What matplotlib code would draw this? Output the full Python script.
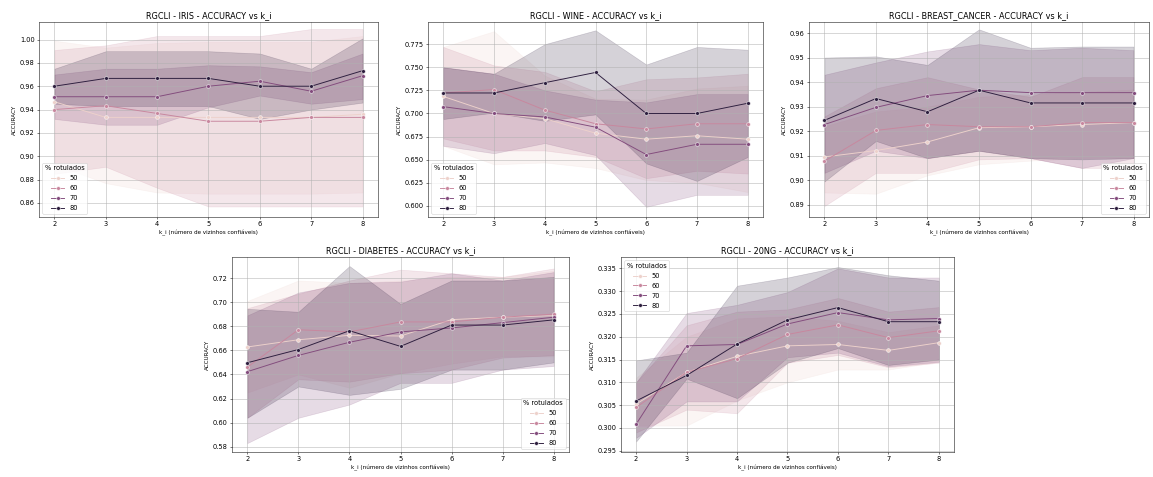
import numpy as np
import matplotlib
matplotlib.use("Agg")
import matplotlib.pyplot as plt
import seaborn as sns

K_I = [2, 3, 4, 5, 6, 7, 8]
HUES = [50, 60, 70, 80]
DATASETS = ["IRIS", "WINE", "BREAST_CANCER", "DIABETES", "20NG"]

# rows: 50, 60, 70, 80
IRIS_MEAN = [[0.9467, 0.9333, 0.9333, 0.9333, 0.9333, 0.9333, 0.9360],
             [0.9400, 0.9433, 0.9367, 0.9300, 0.9300, 0.9333, 0.9333],
             [0.9510, 0.9510, 0.9510, 0.9600, 0.9643, 0.9557, 0.9690],
             [0.9600, 0.9667, 0.9667, 0.9667, 0.9600, 0.9600, 0.9733]]
IRIS_LO = [[0.893, 0.877, 0.869, 0.868, 0.868, 0.868, 0.869],
           [0.885, 0.891, 0.873, 0.857, 0.857, 0.857, 0.857],
           [0.932, 0.927, 0.927, 0.942, 0.952, 0.945, 0.949],
           [0.945, 0.943, 0.943, 0.943, 0.932, 0.940, 0.946]]
IRIS_HI = [[0.999, 0.993, 0.997, 0.998, 0.998, 0.998, 1.003],
           [0.991, 0.995, 1.003, 1.003, 1.003, 1.009, 1.009],
           [0.970, 0.975, 0.975, 0.978, 0.977, 0.972, 0.988],
           [0.975, 0.990, 0.990, 0.990, 0.988, 0.975, 1.001]]

WINE_MEAN = [[0.7185, 0.7000, 0.6944, 0.6787, 0.6722, 0.6759, 0.6722],
             [0.7222, 0.7259, 0.7037, 0.6889, 0.6833, 0.6889, 0.6889],
             [0.7074, 0.7000, 0.6963, 0.6852, 0.6556, 0.6667, 0.6667],
             [0.7222, 0.7222, 0.7333, 0.7444, 0.7000, 0.7000, 0.7111]]
WINE_LO = [[0.665, 0.645, 0.647, 0.641, 0.628, 0.625, 0.615],
           [0.673, 0.660, 0.660, 0.653, 0.630, 0.638, 0.635],
           [0.665, 0.657, 0.668, 0.655, 0.599, 0.612, 0.612],
           [0.694, 0.701, 0.692, 0.699, 0.646, 0.627, 0.653]]
WINE_HI = [[0.772, 0.789, 0.741, 0.716, 0.715, 0.727, 0.730],
           [0.772, 0.752, 0.745, 0.724, 0.737, 0.739, 0.743],
           [0.750, 0.743, 0.725, 0.715, 0.712, 0.721, 0.721],
           [0.750, 0.743, 0.775, 0.790, 0.753, 0.772, 0.769]]

BC_MEAN = [[0.9095, 0.9121, 0.9156, 0.9214, 0.9218, 0.9227, 0.9235],
           [0.9078, 0.9203, 0.9227, 0.9218, 0.9218, 0.9235, 0.9235],
           [0.9227, 0.9297, 0.9345, 0.9367, 0.9357, 0.9357, 0.9357],
           [0.9244, 0.9333, 0.9279, 0.9367, 0.9315, 0.9315, 0.9315]]
BC_LO = [[0.8950, 0.8945, 0.9020, 0.9065, 0.9080, 0.9090, 0.9090],
         [0.8895, 0.9030, 0.9030, 0.9085, 0.9090, 0.9050, 0.9050],
         [0.9030, 0.9120, 0.9090, 0.9120, 0.9090, 0.9050, 0.9090],
         [0.8995, 0.9160, 0.9090, 0.9120, 0.9090, 0.9085, 0.9090]]
BC_HI = [[0.9220, 0.9280, 0.9300, 0.9340, 0.9350, 0.9360, 0.9370],
         [0.9260, 0.9375, 0.9420, 0.9370, 0.9340, 0.9420, 0.9420],
         [0.9430, 0.9480, 0.9525, 0.9555, 0.9530, 0.9540, 0.9530],
         [0.9500, 0.9505, 0.9470, 0.9615, 0.9540, 0.9545, 0.9545]]

DIAB_MEAN = [[0.6628, 0.6688, 0.6725, 0.6719, 0.6855, 0.6875, 0.6888],
             [0.6460, 0.6771, 0.6753, 0.6836, 0.6836, 0.6875, 0.6901],
             [0.6423, 0.6558, 0.6667, 0.6753, 0.6786, 0.6830, 0.6875],
             [0.6497, 0.6607, 0.6763, 0.6633, 0.6810, 0.6810, 0.6853]]
DIAB_LO = [[0.625, 0.640, 0.629, 0.641, 0.649, 0.655, 0.655],
           [0.604, 0.636, 0.634, 0.641, 0.644, 0.654, 0.656],
           [0.583, 0.604, 0.615, 0.633, 0.633, 0.644, 0.647],
           [0.604, 0.630, 0.623, 0.628, 0.644, 0.644, 0.650]]
DIAB_HI = [[0.701, 0.718, 0.716, 0.718, 0.721, 0.721, 0.726],
           [0.695, 0.707, 0.718, 0.727, 0.724, 0.721, 0.728],
           [0.689, 0.708, 0.716, 0.717, 0.724, 0.718, 0.725],
           [0.6945, 0.692, 0.730, 0.6985, 0.718, 0.718, 0.721]]

NG_MEAN = [[0.3052, 0.3122, 0.3157, 0.3180, 0.3183, 0.3170, 0.3187],
           [0.3045, 0.3122, 0.3152, 0.3205, 0.3226, 0.3198, 0.3213],
           [0.3008, 0.3180, 0.3183, 0.3228, 0.3253, 0.3237, 0.3240],
           [0.3059, 0.3115, 0.3184, 0.3237, 0.3264, 0.3233, 0.3233]]
NG_LO = [[0.3005, 0.3005, 0.3060, 0.3100, 0.3128, 0.3128, 0.3145],
         [0.2990, 0.3040, 0.3032, 0.3143, 0.3160, 0.3133, 0.3143],
         [0.2978, 0.3058, 0.3058, 0.3155, 0.3165, 0.3135, 0.3145],
         [0.2970, 0.3108, 0.3065, 0.3143, 0.3175, 0.3138, 0.3150]]
NG_HI = [[0.3110, 0.3200, 0.3240, 0.3245, 0.3235, 0.3210, 0.3225],
         [0.3100, 0.3225, 0.3255, 0.3260, 0.3285, 0.3255, 0.3265],
         [0.3100, 0.3252, 0.3270, 0.3298, 0.3350, 0.3330, 0.3330],
         [0.3148, 0.3165, 0.3312, 0.3330, 0.3353, 0.3335, 0.3323]]

MEANS = [IRIS_MEAN, WINE_MEAN, BC_MEAN, DIAB_MEAN, NG_MEAN]
LOWS = [IRIS_LO, WINE_LO, BC_LO, DIAB_LO, NG_LO]
HIGHS = [IRIS_HI, WINE_HI, BC_HI, DIAB_HI, NG_HI]
YLIMS = [(0.848, 1.015), (0.588, 0.799), (0.885, 0.9645), (0.5756, 0.7375), (0.2947, 0.3375)]
LEGEND_LOC = ["lower left", "lower left", "lower right", "lower right", "upper left"]

W, H = 1153, 477
DPI = 45
fig = plt.figure(figsize=(W / DPI, H / DPI), dpi=DPI)

# axes boxes in pixels: left, top, right, bottom
boxes = [(39, 22, 378, 217), (428, 22, 763, 217), (809, 22, 1149, 217),
         (232, 257, 569, 452), (621, 257, 954, 452)]

cmap = sns.cubehelix_palette(as_cmap=True)
colors = [cmap((h - min(HUES)) / (max(HUES) - min(HUES))) for h in HUES]

for i, name in enumerate(DATASETS):
    l, t, r, b = boxes[i]
    ax = fig.add_axes([l / W, 1 - b / H, (r - l) / W, (b - t) / H])
    for j, h in enumerate(HUES):
        c = colors[j]
        ax.fill_between(K_I, LOWS[i][j], HIGHS[i][j], color=c, alpha=0.2)
        ax.plot(K_I, MEANS[i][j], color=c, marker="o", markeredgecolor="w",
                markeredgewidth=0.75, label=str(h))
    ax.set_ylim(*YLIMS[i])
    ax.grid(True)
    ax.tick_params(labelsize=10.5)
    ax.set_title(f"RGCLI - {name} - ACCURACY vs k_i", fontsize=13)
    ax.set_xlabel("k_i (número de vizinhos confiáveis)", fontsize=9)
    ax.set_ylabel("ACCURACY", fontsize=9)
    ax.legend(title="% rotulados", loc=LEGEND_LOC[i], fontsize=10.5,
              title_fontsize=10.5, labelspacing=0.6)

fig.savefig("out.png", dpi=DPI)
